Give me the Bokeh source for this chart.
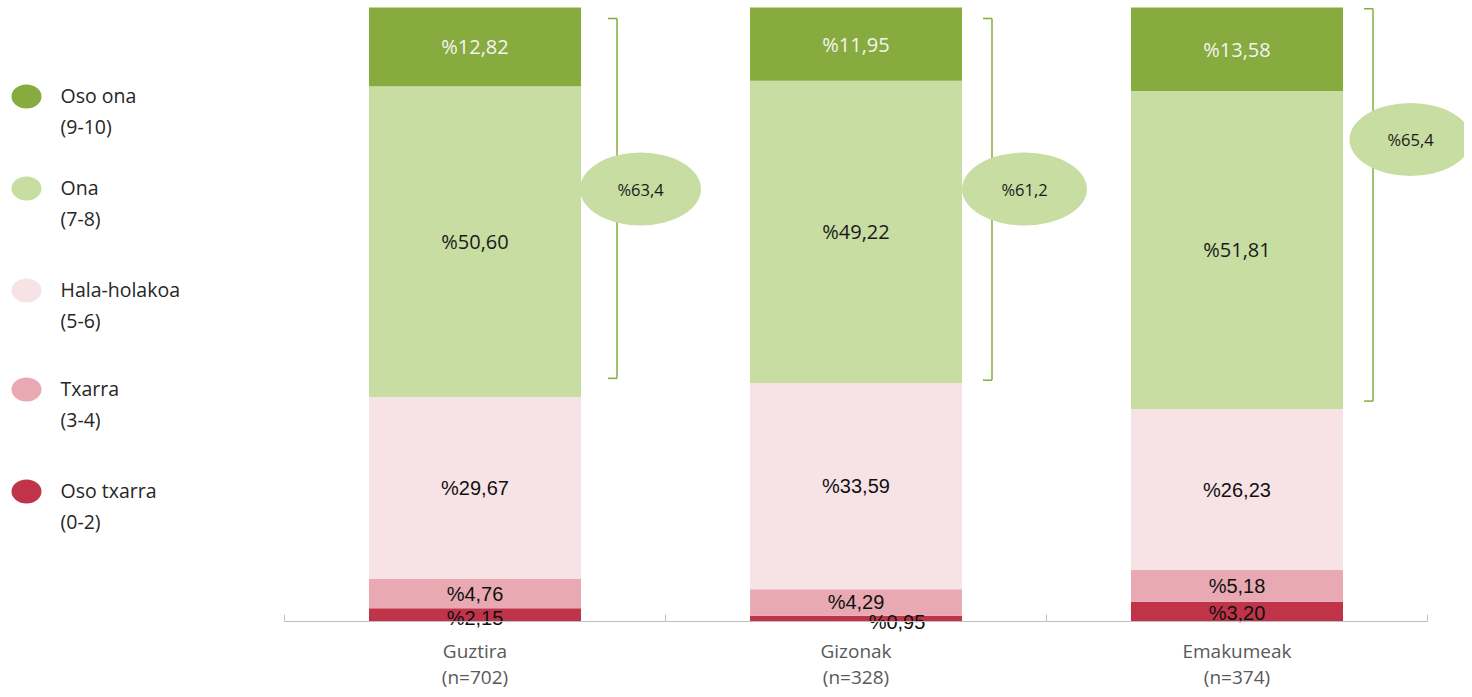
import numpy as np
from bokeh.plotting import figure
from bokeh.models import ColumnDataSource, Range1d
from bokeh.core.properties import value
from bokeh.embed import file_html
from bokeh.resources import INLINE

# ---------------- data ----------------
categories = ["Guztira", "Gizonak", "Emakumeak"]
n_labels = ["(n=702)", "(n=328)", "(n=374)"]
series = ["Oso txarra", "Txarra", "Hala-holakoa", "Ona", "Oso ona"]
ranges = ["(0-2)", "(3-4)", "(5-6)", "(7-8)", "(9-10)"]
oso_txarra = [2.15, 0.95, 3.20]
txarra = [4.76, 4.29, 5.18]
hala_holakoa = [29.67, 33.59, 26.23]
ona = [50.60, 49.22, 51.81]
oso_ona = [12.82, 11.95, 13.58]
positive_totals = [63.4, 61.2, 65.4]
bracket_high = [98.2, 98.2, 99.8]
bracket_low = [39.6, 39.3, 35.9]

# ---------------- styles ----------------
colors = ["#C0344A", "#E8A9B3", "#F7E3E6", "#C8DDA2", "#87AB3E"]
bracket_color = "#84AC3E"
seg_font = ["Liberation Sans", "Liberation Sans", "Liberation Sans", "Open Sans", "Open Sans"]
seg_text_color = ["#111111", "#111111", "#111111", "#1a1a1a", "#F4F4F4"]

PX_X = 381.0   # pixels per category
PX_Y = 6.14    # pixels per percent
X0 = 284       # screen x of category axis start
Y0 = 621       # screen y of baseline
W, H = 1464, 689
x = np.arange(len(categories)) + 0.5

p = figure(width=W, height=H,
           x_range=Range1d(-X0 / PX_X, (W - X0) / PX_X),
           y_range=Range1d(-(H - Y0) / PX_Y, Y0 / PX_Y),
           x_axis_type=None, y_axis_type=None,
           toolbar_location=None, output_backend="svg", min_border=0)
p.outline_line_color = None
p.grid.visible = False
p.background_fill_color = "white"

values = [oso_txarra, txarra, hala_holakoa, ona, oso_ona]
src = ColumnDataSource(dict(x=x, **{s: v for s, v in zip(series, values)}))
p.vbar_stack(series, x="x", width=212 / PX_X, color=colors, line_color=None, source=src)

# segment labels
cum = np.zeros(len(categories))
for si, (s, vals) in enumerate(zip(series, values)):
    vals = np.array(vals)
    mid = cum + vals / 2
    cum = cum + vals
    xo = [0] * len(categories)
    yo = [0] * len(categories)
    if si == 0:
        yo = [3, 3, 1]
        xo = [0, 41, 0]
    lsrc = ColumnDataSource(dict(x=x, y=mid, t=["%" + f"{v:.2f}".replace(".", ",") for v in vals],
                                 xo=xo, yo=yo))
    p.text(x="x", y="y", text="t", source=lsrc, x_offset="xo", y_offset="yo",
           text_align="center", text_baseline="middle",
           text_font=value(seg_font[si]), text_font_size="20px",
           text_color=seg_text_color[si])

# brackets
bx = x + np.array([142, 136, 136]) / PX_X
tick = 9 / PX_X
p.segment(x0=bx, y0=bracket_low, x1=bx, y1=bracket_high, line_color=bracket_color, line_width=1.5)
p.segment(x0=bx - tick, y0=bracket_high, x1=bx, y1=bracket_high, line_color=bracket_color, line_width=1.5)
p.segment(x0=bx - tick, y0=bracket_low, x1=bx, y1=bracket_low, line_color=bracket_color, line_width=1.5)

# total bubbles
ex = x + np.array([165.5, 168.5, 173.5]) / PX_X
ey = np.array([432.5, 432.5, 482]) / PX_Y
p.ellipse(x=ex, y=ey, width=[121, 125, 122], height=73, width_units="screen", height_units="screen",
          fill_color=colors[3], line_color=None)
p.text(x=ex, y=ey, text=["%" + f"{v:.1f}".replace(".", ",") for v in positive_totals],
       text_align="center", text_baseline="middle", text_font=value("Open Sans"),
       text_font_size="16.5px", text_color="#1a1a1a")

# baseline axis and ticks
p.segment(x0=[0], y0=[0], x1=[len(categories)], y1=[0], line_color="#BFBFBF", line_width=1)
bounds = np.arange(len(categories) + 1)
p.segment(x0=bounds, y0=0, x1=bounds, y1=7 / PX_Y, line_color="#BFBFBF", line_width=1)

# category labels
p.text(x=x, y=-29 / PX_Y, text=categories, text_align="center", text_baseline="middle",
       text_font=value("Open Sans"), text_font_size="19px", text_color="#595959")
p.text(x=x, y=-55 / PX_Y, text=n_labels, text_align="center", text_baseline="middle",
       text_font=value("Open Sans"), text_font_size="19px", text_color="#595959")

# legend (top to bottom: Oso ona ... Oso txarra)
leg_y_px = np.array([95, 187, 289, 388, 490])
leg_names = series[::-1]
leg_ranges = ranges[::-1]
leg_colors = colors[::-1]
lx = (26 - X0) / PX_X
tx = (60 - X0) / PX_X
p.ellipse(x=lx, y=(Y0 - leg_y_px - 1) / PX_Y, width=30, height=24, width_units="screen",
          height_units="screen", fill_color=leg_colors, line_color=None)
p.text(x=tx, y=(Y0 - leg_y_px) / PX_Y, text=leg_names, text_align="left", text_baseline="middle",
       text_font=value("Open Sans"), text_font_size="19.5px", text_color="#262626")
p.text(x=tx, y=(Y0 - leg_y_px - 31) / PX_Y, text=leg_ranges, text_align="left", text_baseline="middle",
       text_font=value("Open Sans"), text_font_size="19.5px", text_color="#262626")

open("out.html", "w").write(file_html(p, INLINE))
